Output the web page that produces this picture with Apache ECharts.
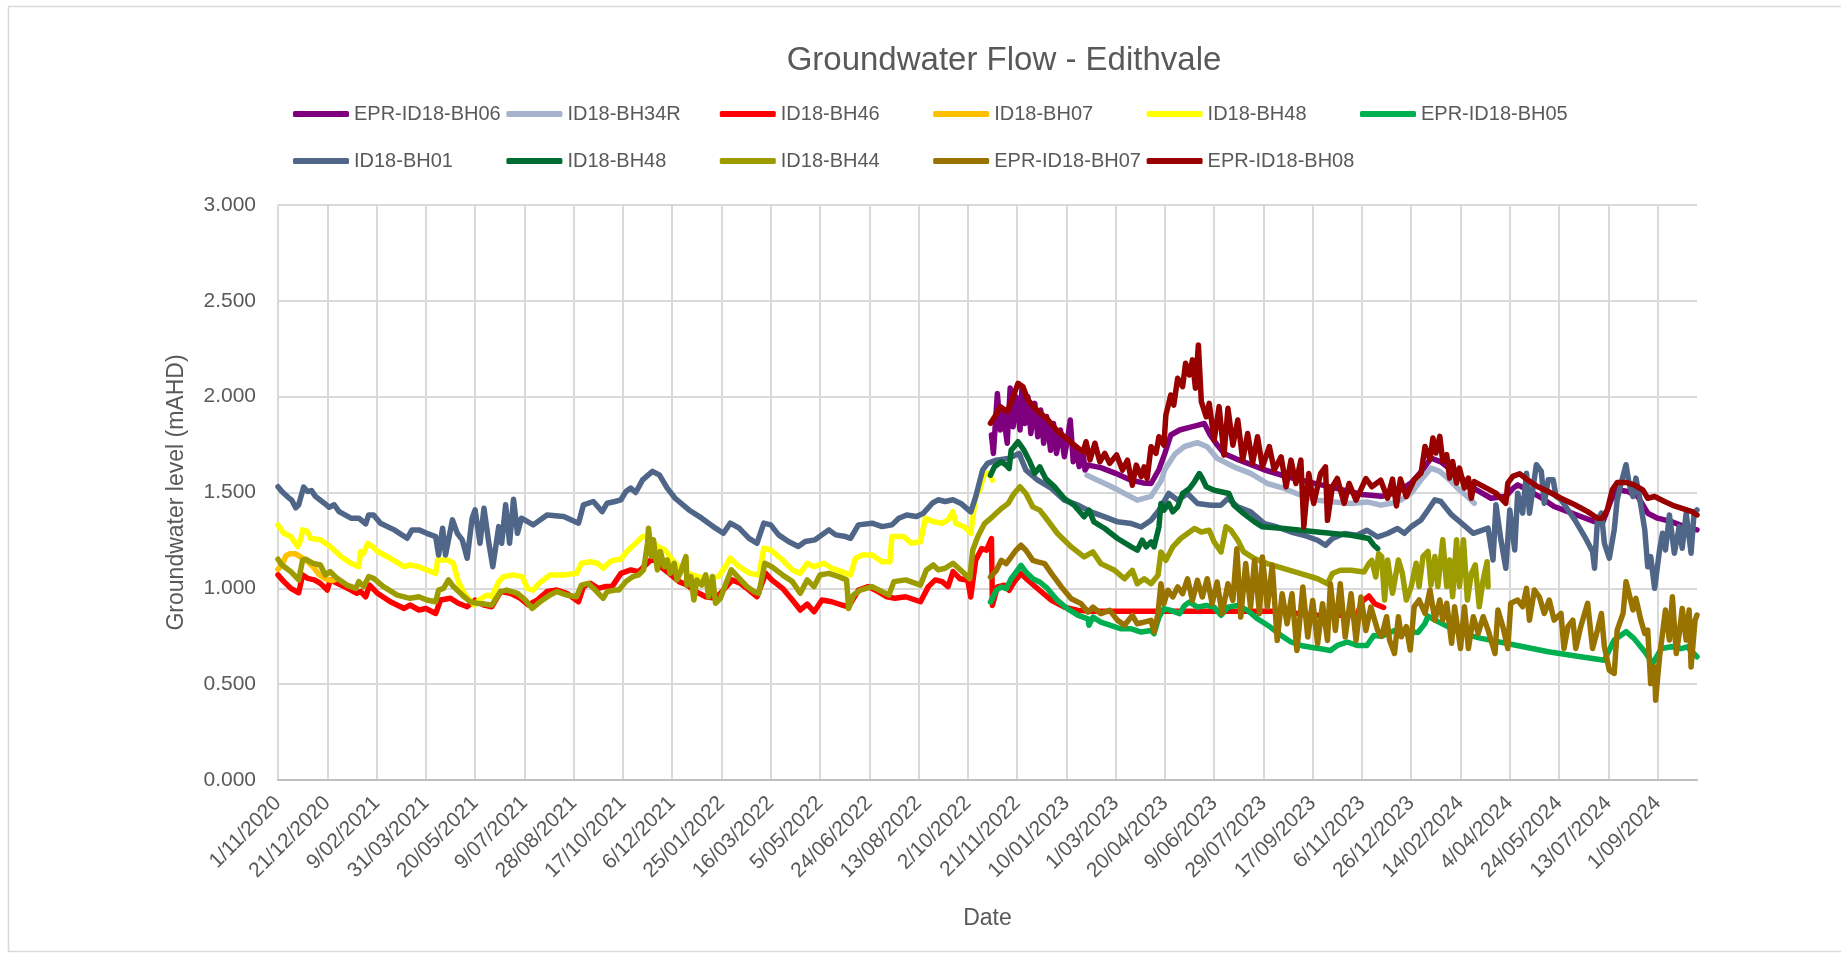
<!DOCTYPE html>
<html>
<head>
<meta charset="utf-8">
<script src="https://cdn.jsdelivr.net/npm/echarts@6/dist/echarts.min.js"></script>
<style>
html,body{margin:0;padding:0;background:#fff;}
#chart{width:1841px;height:954px;}
</style>
</head>
<body>
<div id="chart"></div>
<script>
// x values are days counted from the first axis date (1/11/2020); tick labels every 50 days
const axisStartDate = [2020, 11, 1];
const tickStepDays = 50;
const axisEndDay = 1440;
const yTicks = [0, 0.5, 1, 1.5, 2, 2.5, 3];

const seriesNames = ['EPR-ID18-BH06', 'ID18-BH34R', 'ID18-BH46', 'ID18-BH07', 'ID18-BH48', 'EPR-ID18-BH05',
  'ID18-BH01', 'ID18-BH48 ', 'ID18-BH44', 'EPR-ID18-BH07', 'EPR-ID18-BH08'];

const EPR_ID18_BH06 = [[724,1.80],[726,1.704],[730,2.017],[733,1.826],[736,1.913],[740,1.757],[743,2.045],[746,1.843],[749,2.0],[753,1.826],[755,2.05],[758,1.86],[761,2.0],[764,1.808],[768,1.965],[771,1.791],[774,1.93],[777,1.757],[780,1.896],[784,1.72],[787,1.86],[790,1.704],[794,1.826],[798,1.687],[801,1.774],[804,1.878],[807,1.66],[810,1.739],[813,1.635],[817,1.704],[819,1.617],[822,1.643],[835,1.63],[850,1.60],[865,1.565],[878,1.55],[886,1.547],[894,1.62],[900,1.704],[906,1.80],[915,1.826],[925,1.84],[933,1.85],[940,1.86],[946,1.80],[952,1.756],[960,1.704],[975,1.67],[1000,1.62],[1025,1.58],[1050,1.55],[1075,1.52],[1100,1.49],[1120,1.48],[1135,1.50],[1150,1.55],[1162,1.62],[1170,1.68],[1180,1.66],[1200,1.58],[1214,1.52],[1231,1.47],[1246,1.48],[1253,1.52],[1258,1.54],[1268,1.514],[1280,1.479],[1295,1.427],[1309,1.40],[1322,1.375],[1336,1.348],[1344,1.34],[1353,1.462],[1359,1.514],[1370,1.505],[1380,1.479],[1390,1.392],[1400,1.366],[1414,1.348],[1427,1.322],[1440,1.305]];

const ID18_BH34R = [[821,1.59],[846,1.53],[872,1.46],[886,1.48],[896,1.56],[900,1.62],[910,1.70],[920,1.74],[933,1.76],[943,1.739],[953,1.678],[970,1.634],[987,1.60],[1004,1.547],[1021,1.521],[1038,1.486],[1055,1.46],[1072,1.451],[1089,1.443],[1105,1.451],[1119,1.434],[1130,1.444],[1140,1.462],[1150,1.497],[1160,1.566],[1170,1.627],[1179,1.61],[1187,1.575],[1197,1.523],[1207,1.479],[1214,1.444]];

const ID18_BH46 = [[0,1.07],[6,1.035],[13,1.0],[21,0.977],[25,1.07],[30,1.052],[37,1.044],[43,1.026],[50,0.991],[53,1.044],[64,1.017],[74,0.991],[80,0.974],[84,0.983],[89,0.956],[93,1.017],[101,0.974],[114,0.93],[128,0.895],[134,0.913],[143,0.887],[150,0.895],[160,0.869],[165,0.939],[175,0.948],[183,0.922],[192,0.904],[200,0.939],[209,0.913],[217,0.904],[226,0.983],[236,0.974],[246,0.948],[254,0.913],[263,0.939],[273,0.983],[283,0.991],[293,0.974],[305,0.93],[310,1.009],[317,1.026],[325,1.0],[332,1.009],[339,1.009],[348,1.078],[358,1.096],[366,1.087],[373,1.122],[380,1.157],[388,1.113],[397,1.078],[407,1.035],[415,1.017],[424,0.983],[434,0.956],[444,0.948],[452,0.991],[461,1.044],[469,1.026],[478,0.991],[486,0.956],[495,1.078],[501,1.044],[512,1.0],[522,0.939],[530,0.887],[537,0.918],[544,0.878],[552,0.939],[562,0.93],[572,0.913],[579,0.904],[589,0.991],[599,1.009],[609,0.983],[618,0.956],[626,0.948],[637,0.956],[652,0.93],[660,1.009],[667,1.044],[674,1.035],[680,1.009],[685,1.087],[692,1.05],[700,1.042],[703,0.955],[708,1.146],[714,1.207],[719,1.199],[724,1.26],[725,0.911],[730,1.007],[737,1.016],[742,0.99],[747,1.033],[754,1.077],[761,1.042],[771,0.998],[785,0.937],[798,0.902],[812,0.885],[825,0.88],[1015,0.88],[1050,0.86],[1095,0.86],[1100,0.93],[1107,0.96],[1113,0.92],[1122,0.90]];

const ID18_BH07 = [[0,1.10],[4,1.12],[8,1.17],[12,1.18],[18,1.18],[24,1.16],[30,1.14],[36,1.11],[42,1.07],[48,1.05],[55,1.04],[60,1.05]];

const ID18_BH48 = [[0,1.331],[6,1.287],[13,1.27],[20,1.218],[23,1.253],[25,1.305],[30,1.296],[33,1.261],[43,1.253],[53,1.218],[64,1.166],[74,1.131],[82,1.113],[84,1.192],[87,1.183],[91,1.235],[96,1.218],[101,1.192],[114,1.157],[128,1.113],[134,1.122],[143,1.113],[151,1.096],[160,1.078],[162,1.148],[172,1.148],[178,1.131],[183,1.035],[190,0.965],[199,0.913],[204,0.939],[212,0.965],[217,0.956],[224,1.035],[229,1.061],[239,1.07],[248,1.061],[253,1.0],[259,0.991],[265,1.026],[276,1.07],[290,1.07],[303,1.078],[308,1.131],[317,1.139],[324,1.131],[330,1.105],[337,1.139],[342,1.148],[348,1.152],[354,1.192],[363,1.235],[370,1.27],[376,1.27],[385,1.218],[393,1.20],[400,1.148],[410,1.096],[420,1.07],[434,1.052],[447,1.061],[454,1.113],[459,1.157],[468,1.113],[479,1.078],[488,1.07],[493,1.209],[500,1.20],[512,1.148],[522,1.096],[530,1.078],[537,1.131],[544,1.113],[554,1.131],[562,1.105],[572,1.087],[581,1.07],[586,1.157],[593,1.174],[603,1.174],[613,1.139],[621,1.139],[623,1.27],[635,1.27],[643,1.235],[652,1.244],[657,1.366],[665,1.348],[674,1.34],[680,1.357],[685,1.40],[688,1.338],[697,1.32],[703,1.286],[708,1.477],[712,1.512],[717,1.599],[722,1.599],[725,1.564]];

const EPR_ID18_BH05 = [[723,0.929],[729,0.99],[734,1.007],[739,0.998],[744,1.05],[749,1.085],[754,1.12],[759,1.085],[766,1.05],[773,1.033],[781,0.998],[791,0.937],[801,0.894],[812,0.859],[822,0.841],[823,0.807],[827,0.85],[835,0.824],[845,0.807],[855,0.789],[866,0.789],[876,0.772],[886,0.78],[889,0.763],[894,0.85],[899,0.894],[906,0.885],[915,0.868],[920,0.911],[925,0.929],[933,0.902],[942,0.911],[950,0.902],[957,0.859],[964,0.902],[974,0.911],[984,0.885],[994,0.841],[1007,0.798],[1018,0.754],[1028,0.72],[1038,0.702],[1048,0.693],[1058,0.685],[1068,0.676],[1075,0.702],[1085,0.72],[1095,0.702],[1105,0.702],[1112,0.754],[1120,0.75],[1133,0.78],[1147,0.775],[1157,0.77],[1164,0.817],[1167,0.855],[1174,0.834],[1187,0.80],[1201,0.765],[1221,0.739],[1255,0.704],[1289,0.669],[1322,0.643],[1346,0.625],[1356,0.73],[1368,0.774],[1376,0.739],[1387,0.669],[1395,0.608],[1404,0.686],[1414,0.695],[1424,0.686],[1430,0.695],[1440,0.643]];

const ID18_BH01 = [[0,1.53],[4,1.505],[10,1.476],[14,1.46],[18,1.42],[21,1.436],[26,1.528],[30,1.505],[34,1.51],[38,1.48],[47,1.444],[52,1.423],[57,1.436],[62,1.40],[74,1.366],[82,1.366],[89,1.336],[92,1.383],[97,1.383],[104,1.34],[118,1.305],[131,1.261],[136,1.305],[143,1.305],[151,1.287],[160,1.27],[163,1.174],[167,1.314],[170,1.174],[177,1.357],[182,1.287],[187,1.253],[192,1.157],[197,1.366],[200,1.409],[205,1.235],[209,1.418],[214,1.235],[218,1.113],[224,1.322],[227,1.235],[231,1.436],[235,1.235],[239,1.465],[243,1.287],[247,1.366],[259,1.331],[273,1.383],[290,1.375],[305,1.34],[310,1.436],[320,1.453],[329,1.40],[334,1.444],[342,1.453],[348,1.462],[353,1.505],[358,1.523],[363,1.50],[370,1.566],[380,1.61],[387,1.592],[395,1.523],[403,1.47],[417,1.409],[430,1.366],[444,1.314],[452,1.287],[459,1.34],[468,1.314],[478,1.261],[486,1.235],[493,1.34],[500,1.331],[508,1.279],[518,1.244],[528,1.218],[535,1.244],[545,1.253],[559,1.305],[566,1.279],[576,1.27],[581,1.261],[589,1.331],[603,1.34],[613,1.322],[623,1.331],[630,1.366],[638,1.383],[648,1.375],[655,1.392],[664,1.444],[670,1.462],[677,1.453],[685,1.462],[693,1.443],[703,1.399],[708,1.477],[715,1.617],[720,1.652],[729,1.669],[741,1.678],[752,1.704],[759,1.617],[771,1.564],[785,1.521],[798,1.46],[812,1.434],[825,1.399],[839,1.373],[852,1.347],[866,1.338],[876,1.32],[886,1.355],[894,1.408],[904,1.495],[913,1.46],[923,1.495],[933,1.443],[947,1.434],[957,1.434],[964,1.469],[974,1.425],[987,1.399],[1001,1.338],[1014,1.32],[1028,1.294],[1041,1.277],[1055,1.251],[1063,1.225],[1070,1.26],[1082,1.286],[1095,1.277],[1105,1.303],[1116,1.268],[1126,1.286],[1136,1.312],[1143,1.287],[1150,1.322],[1160,1.357],[1167,1.409],[1174,1.462],[1180,1.453],[1191,1.383],[1201,1.34],[1213,1.287],[1228,1.314],[1233,1.148],[1236,1.436],[1241,1.253],[1246,1.105],[1250,1.409],[1255,1.20],[1258,1.496],[1263,1.392],[1267,1.601],[1270,1.392],[1277,1.645],[1282,1.61],[1285,1.444],[1289,1.566],[1294,1.566],[1297,1.479],[1302,1.462],[1316,1.357],[1326,1.27],[1334,1.192],[1336,1.105],[1339,1.357],[1343,1.392],[1346,1.235],[1351,1.157],[1356,1.305],[1359,1.462],[1363,1.549],[1368,1.645],[1371,1.549],[1375,1.479],[1378,1.575],[1381,1.497],[1387,1.305],[1390,1.113],[1393,1.166],[1397,1.0],[1402,1.20],[1405,1.287],[1408,1.20],[1412,1.383],[1417,1.183],[1422,1.322],[1425,1.209],[1429,1.392],[1434,1.183],[1437,1.392],[1440,1.409]];

const ID18_BH48_B = [[723,1.59],[727,1.634],[734,1.66],[739,1.643],[742,1.625],[744,1.721],[747,1.739],[751,1.765],[753,1.774],[757,1.721],[763,1.66],[768,1.60],[773,1.634],[779,1.573],[788,1.53],[798,1.469],[808,1.434],[818,1.373],[823,1.408],[828,1.347],[839,1.312],[852,1.26],[866,1.216],[872,1.199],[877,1.251],[881,1.216],[886,1.242],[889,1.216],[894,1.321],[896,1.443],[899,1.408],[904,1.443],[908,1.399],[913,1.425],[918,1.495],[925,1.521],[930,1.556],[935,1.599],[938,1.573],[942,1.53],[950,1.512],[965,1.495],[970,1.434],[980,1.39],[991,1.347],[999,1.321],[1021,1.312],[1055,1.294],[1089,1.277],[1107,1.26],[1112,1.225],[1116,1.207]];

const ID18_BH44 = [[0,1.152],[4,1.122],[13,1.087],[21,1.044],[25,1.148],[28,1.152],[35,1.131],[43,1.122],[48,1.07],[53,1.087],[60,1.052],[70,1.017],[79,1.0],[82,1.035],[87,1.009],[92,1.061],[97,1.052],[107,1.009],[121,0.965],[134,0.948],[143,0.956],[151,0.939],[160,0.93],[163,0.991],[168,1.0],[173,1.044],[178,1.009],[187,0.965],[195,0.93],[202,0.922],[217,0.913],[226,0.983],[232,0.991],[243,0.974],[251,0.939],[258,0.895],[266,0.93],[276,0.965],[283,0.983],[293,0.965],[303,0.956],[308,1.017],[315,1.026],[322,0.991],[330,0.948],[334,0.983],[342,0.991],[346,0.991],[353,1.035],[360,1.061],[366,1.07],[371,1.096],[375,1.235],[376,1.314],[379,1.166],[381,1.253],[385,1.096],[388,1.192],[392,1.113],[395,1.148],[398,1.078],[402,1.131],[405,1.044],[408,1.078],[414,1.166],[415,1.017],[419,1.061],[422,0.939],[425,1.044],[430,1.017],[434,1.07],[437,0.956],[441,1.061],[444,0.922],[449,0.948],[454,1.017],[460,1.096],[468,1.052],[476,1.009],[483,0.983],[488,0.974],[494,1.131],[501,1.113],[512,1.07],[522,1.035],[530,0.974],[537,1.044],[544,1.009],[550,1.07],[559,1.078],[569,1.061],[577,1.044],[579,0.895],[584,0.965],[591,0.991],[603,1.009],[613,0.983],[620,0.965],[625,1.035],[637,1.044],[652,1.017],[658,1.096],[665,1.122],[670,1.096],[677,1.105],[685,1.131],[693,1.094],[702,1.05],[705,1.199],[710,1.268],[717,1.338],[725,1.373],[734,1.416],[741,1.443],[747,1.495],[753,1.53],[759,1.495],[766,1.425],[773,1.408],[781,1.355],[791,1.286],[805,1.216],[818,1.164],[827,1.19],[835,1.129],[849,1.094],[859,1.05],[867,1.094],[872,1.024],[879,1.05],[886,1.024],[893,1.068],[896,1.19],[901,1.146],[908,1.216],[916,1.26],[923,1.286],[930,1.312],[937,1.294],[945,1.303],[950,1.242],[957,1.19],[962,1.321],[967,1.303],[974,1.251],[980,1.19],[991,1.155],[1004,1.129],[1021,1.103],[1038,1.077],[1055,1.05],[1065,1.024],[1070,1.077],[1078,1.094],[1089,1.094],[1102,1.085],[1107,1.129],[1110,1.146],[1114,1.059],[1117,1.181],[1120,1.166],[1123,0.939],[1126,1.148],[1131,0.974],[1137,1.148],[1141,1.078],[1145,0.939],[1150,1.009],[1155,1.131],[1158,1.009],[1162,1.166],[1167,1.192],[1170,1.017],[1174,1.166],[1177,1.009],[1182,1.253],[1186,1.009],[1189,1.148],[1192,0.956],[1196,1.253],[1199,1.009],[1203,1.253],[1207,0.939],[1211,1.078],[1215,1.122],[1219,0.904],[1223,1.044],[1227,1.139],[1228,1.009]];

const EPR_ID18_BH07 = [[723,1.059],[729,1.094],[734,1.146],[739,1.129],[744,1.164],[749,1.199],[754,1.225],[759,1.199],[766,1.146],[771,1.138],[778,1.129],[785,1.077],[795,1.007],[805,0.946],[815,0.92],[822,0.876],[827,0.902],[835,0.868],[844,0.885],[852,0.833],[859,0.807],[867,0.859],[872,0.815],[879,0.824],[886,0.833],[889,0.772],[893,0.868],[896,1.024],[899,0.92],[903,0.99],[908,0.955],[913,1.007],[918,0.972],[923,1.05],[928,0.937],[933,1.042],[938,0.955],[943,1.05],[948,0.92],[953,1.033],[958,0.868],[964,1.024],[969,0.937],[973,1.207],[977,0.85],[982,1.129],[987,0.902],[991,1.146],[996,0.868],[999,1.164],[1004,0.902],[1009,1.12],[1014,0.728],[1019,0.972],[1024,0.815],[1029,0.972],[1034,0.676],[1040,1.007],[1045,0.746],[1050,0.937],[1055,0.711],[1060,0.92],[1065,0.728],[1068,1.024],[1073,0.78],[1078,1.024],[1083,0.746],[1089,0.972],[1094,0.728],[1099,0.955],[1104,0.78],[1109,0.902],[1116,0.78],[1120,0.75],[1125,0.852],[1128,0.73],[1133,0.66],[1137,0.852],[1140,0.747],[1145,0.80],[1149,0.678],[1153,0.904],[1158,0.939],[1164,0.869],[1169,0.991],[1174,0.834],[1179,0.939],[1182,0.834],[1186,0.922],[1191,0.713],[1194,0.904],[1200,0.686],[1204,0.904],[1208,0.686],[1213,0.852],[1218,0.765],[1223,0.852],[1228,0.782],[1235,0.66],[1238,0.887],[1243,0.80],[1248,0.686],[1251,0.922],[1258,0.939],[1263,0.904],[1267,1.0],[1270,0.834],[1275,0.991],[1280,0.956],[1285,0.869],[1290,0.939],[1295,0.834],[1302,0.869],[1305,0.686],[1309,0.80],[1314,0.834],[1317,0.686],[1322,0.80],[1329,0.922],[1334,0.686],[1339,0.782],[1343,0.869],[1346,0.695],[1351,0.573],[1356,0.556],[1359,0.782],[1365,0.869],[1368,1.035],[1371,0.974],[1375,0.887],[1378,0.948],[1383,0.834],[1387,0.765],[1390,0.782],[1393,0.503],[1397,0.59],[1398,0.416],[1402,0.643],[1405,0.765],[1408,0.887],[1412,0.73],[1415,0.956],[1419,0.66],[1422,0.765],[1425,0.895],[1429,0.73],[1432,0.887],[1434,0.59],[1438,0.834],[1440,0.861]];

const EPR_ID18_BH08 = [[723,1.861],[728,1.90],[733,1.948],[740,1.922],[746,2.0],[751,2.07],[756,2.052],[761,1.983],[770,1.93],[780,1.887],[790,1.826],[800,1.783],[810,1.739],[817,1.713],[820,1.765],[824,1.67],[829,1.757],[834,1.66],[839,1.704],[844,1.652],[851,1.696],[857,1.617],[862,1.669],[867,1.538],[871,1.643],[876,1.582],[879,1.634],[882,1.573],[886,1.739],[891,1.704],[894,1.791],[899,1.747],[901,1.904],[906,2.009],[909,1.956],[913,2.096],[918,2.052],[921,2.174],[925,2.113],[928,2.192],[931,2.044],[934,2.27],[937,1.974],[942,1.895],[945,1.965],[950,1.774],[955,1.948],[960,1.695],[964,1.939],[969,1.747],[974,1.878],[979,1.669],[984,1.808],[989,1.652],[994,1.791],[999,1.634],[1006,1.739],[1011,1.617],[1018,1.686],[1023,1.53],[1028,1.669],[1033,1.547],[1038,1.669],[1041,1.321],[1046,1.599],[1051,1.443],[1058,1.599],[1063,1.634],[1065,1.355],[1070,1.53],[1075,1.573],[1082,1.443],[1087,1.547],[1094,1.46],[1104,1.573],[1110,1.53],[1119,1.564],[1126,1.47],[1131,1.57],[1135,1.43],[1139,1.57],[1145,1.479],[1153,1.566],[1160,1.601],[1164,1.74],[1169,1.671],[1172,1.784],[1175,1.706],[1179,1.793],[1182,1.662],[1186,1.697],[1189,1.575],[1192,1.662],[1196,1.549],[1199,1.627],[1204,1.523],[1208,1.575],[1211,1.47],[1214,1.557],[1236,1.497],[1246,1.444],[1248,1.549],[1253,1.584],[1260,1.598],[1268,1.566],[1278,1.531],[1289,1.505],[1302,1.47],[1316,1.436],[1329,1.40],[1339,1.366],[1344,1.366],[1349,1.409],[1354,1.514],[1359,1.552],[1369,1.552],[1376,1.54],[1385,1.514],[1390,1.47],[1397,1.479],[1407,1.453],[1417,1.43],[1427,1.413],[1435,1.40],[1440,1.383]];

const seriesData = [EPR_ID18_BH06, ID18_BH34R, ID18_BH46, ID18_BH07, ID18_BH48, EPR_ID18_BH05,
  ID18_BH01, ID18_BH48_B, ID18_BH44, EPR_ID18_BH07, EPR_ID18_BH08];

// styles
const seriesColors = ['#7F007F', '#A5B4CC', '#FF0000', '#FFC000', '#FFFF00', '#00B050',
  '#4F6688', '#006C31', '#9C9C00', '#997300', '#990000'];
const textColor = '#595959';
const fontFamily = '"Liberation Sans", Arial, sans-serif';
const legendLeft0 = 293;
const legendColStep = 213.4;
const legendRowTops = [104, 151];
const legendPerRow = 6;

function dayLabel(d) {
  const t = new Date(Date.UTC(axisStartDate[0], axisStartDate[1] - 1, axisStartDate[2]) + d * 86400000);
  return t.getUTCDate() + '/' + String(t.getUTCMonth() + 1).padStart(2, '0') + '/' + t.getUTCFullYear();
}

const chart = echarts.init(document.getElementById('chart'), null, {renderer: 'canvas'});

const legendCommon = {
  orient: 'horizontal',
  padding: 0,
  itemWidth: 56,
  itemHeight: 6,
  itemGap: 0,
  icon: 'roundRect',
  selectedMode: false,
  textStyle: {fontSize: 20, color: textColor, fontFamily: fontFamily}
};

const legends = seriesNames.map(function (name, i) {
  return Object.assign({}, legendCommon, {
    data: [name],
    left: legendLeft0 + (i % legendPerRow) * legendColStep,
    top: legendRowTops[Math.floor(i / legendPerRow)]
  });
});

const option = {
  animation: false,
  backgroundColor: '#ffffff',
  textStyle: {fontFamily: fontFamily},
  title: {
    text: 'Groundwater Flow - Edithvale',
    left: 1004,
    top: 44,
    textAlign: 'center',
    padding: 0,
    textStyle: {fontSize: 33, fontWeight: 'normal', color: textColor, fontFamily: fontFamily}
  },
  legend: legends,
  grid: {left: 278, right: 144, top: 205, bottom: 174, containLabel: false},
  xAxis: {
    type: 'value',
    min: 0,
    max: axisEndDay,
    interval: tickStepDays,
    name: 'Date',
    nameLocation: 'middle',
    nameGap: 127,
    nameTextStyle: {fontSize: 23, color: textColor, fontFamily: fontFamily},
    axisLine: {show: true, lineStyle: {color: '#BFBFBF', width: 2}},
    axisTick: {show: false},
    axisLabel: {
      rotate: 45,
      margin: 20,
      fontSize: 21,
      color: textColor,
      fontFamily: fontFamily,
      showMaxLabel: false,
      formatter: function (v) { return dayLabel(v); }
    },
    splitLine: {show: true, showMaxLine: false, lineStyle: {color: '#D9D9D9', width: 2}}
  },
  yAxis: {
    type: 'value',
    min: yTicks[0],
    max: yTicks[yTicks.length - 1],
    interval: yTicks[1] - yTicks[0],
    name: 'Groundwater level (mAHD)',
    nameLocation: 'middle',
    nameGap: 90,
    nameTextStyle: {fontSize: 23, color: textColor, fontFamily: fontFamily},
    axisLine: {show: false},
    axisTick: {show: false},
    axisLabel: {
      margin: 22,
      fontSize: 21,
      color: textColor,
      fontFamily: fontFamily,
      formatter: function (v) { return v.toFixed(3); }
    },
    splitLine: {show: true, lineStyle: {color: '#D9D9D9', width: 2}}
  },
  graphic: [{
    type: 'rect',
    silent: true,
    z: -10,
    shape: {x: 8.5, y: 6.5, width: 1850, height: 945},
    style: {fill: 'none', stroke: '#D9D9D9', lineWidth: 1.5}
  }],
  series: seriesNames.map(function (name, i) {
    return {
      type: 'line',
      name: name,
      data: seriesData[i],
      showSymbol: false,
      symbol: 'none',
      clip: true,
      z: 2 + i,
      itemStyle: {color: seriesColors[i]},
      lineStyle: {width: 5.5, color: seriesColors[i], cap: 'round', join: 'round'},
      emphasis: {disabled: true}
    };
  })
};

chart.setOption(option);
</script>
</body>
</html>
